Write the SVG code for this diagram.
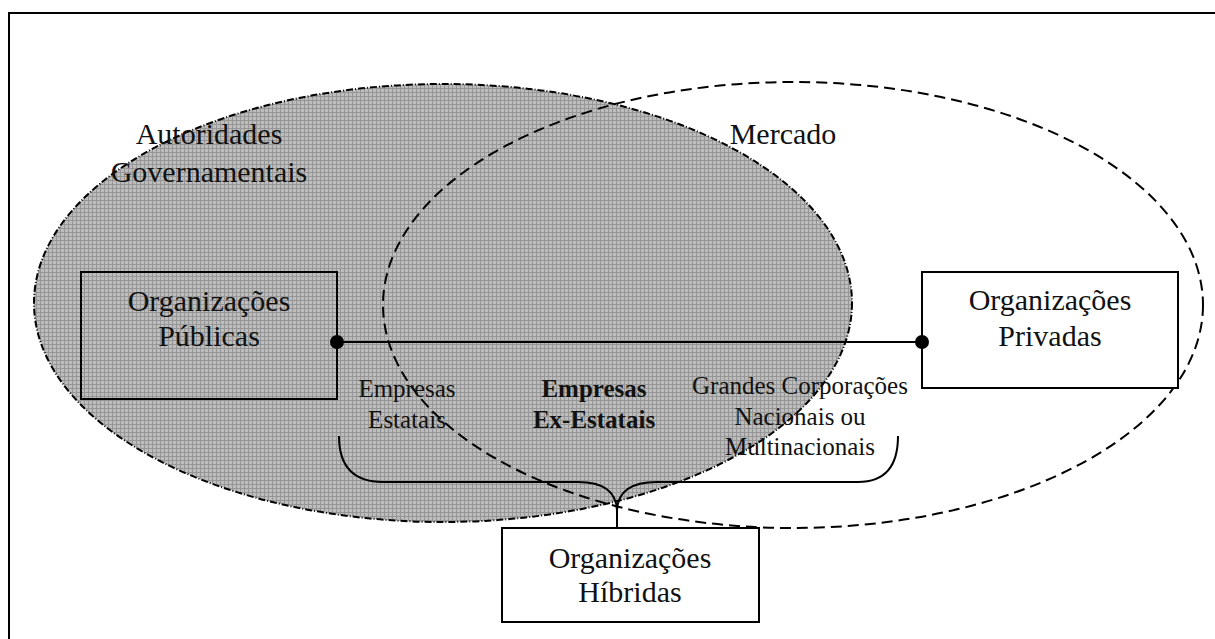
<svg xmlns="http://www.w3.org/2000/svg" width="1215" height="639" viewBox="0 0 1215 639">
  <style>
    .big { font-family: "Liberation Serif", "Times New Roman", serif; font-size: 30px; fill: #111; text-anchor: middle; }
    .small { font-family: "Liberation Serif", "Times New Roman", serif; font-size: 25px; fill: #111; text-anchor: middle; }
    .bold { font-weight: bold; }
    .box { stroke: #000; stroke-width: 2; }
    .line { stroke: #000; stroke-width: 2; fill: none; }
  </style>
  <defs>
    <pattern id="grid" width="4" height="4" patternUnits="userSpaceOnUse">
      <rect width="4" height="4" fill="#bdbdbd"/>
      <rect width="4" height="1" fill="#969696"/>
      <rect width="1" height="4" fill="#969696"/>
    </pattern>
  </defs>

  <rect width="1215" height="639" fill="#fff"/>
  <!-- outer frame -->
  <rect x="9" y="13" width="1220" height="640" fill="none" stroke="#000" stroke-width="2"/>

  <!-- government sphere -->
  <g id="autoridades">
    <ellipse cx="443" cy="303" rx="409" ry="219" fill="url(#grid)" stroke="#000" stroke-width="2" stroke-dasharray="7 2 1 2"/>
    <text class="big" x="209" y="144">Autoridades</text>
    <text class="big" x="209" y="182">Governamentais</text>
  </g>

  <!-- market sphere -->
  <g id="mercado">
    <ellipse cx="793" cy="305" rx="410" ry="223" fill="none" stroke="#000" stroke-width="2" stroke-dasharray="11 6"/>
    <text class="big" x="783" y="144">Mercado</text>
  </g>

  <g id="publicas">
    <rect class="box" x="81" y="272" width="256" height="127" fill="none"/>
    <text class="big" x="209" y="311">Organizações</text>
    <text class="big" x="209" y="346">Públicas</text>
  </g>

  <g id="privadas">
    <rect class="box" x="922" y="272" width="256" height="116" fill="#fff"/>
    <text class="big" x="1050" y="310">Organizações</text>
    <text class="big" x="1050" y="346">Privadas</text>
  </g>

  <g id="hibridas">
    <rect class="box" x="502" y="528" width="257" height="94" fill="#fff"/>
    <text class="big" x="630" y="568">Organizações</text>
    <text class="big" x="630" y="602">Híbridas</text>
  </g>

  <g id="connectors">
    <line class="line" x1="337" y1="342" x2="922" y2="342"/>
    <circle cx="337" cy="342" r="7" fill="#000"/>
    <circle cx="922" cy="342" r="7" fill="#000"/>
    <!-- brace grouping the three kinds of companies -->
    <path class="line" d="M 339 436 Q 339 482 383 482 L 578 482 Q 617 482 617 512 L 617 528"/>
    <path class="line" d="M 617 512 Q 617 482 657 482 L 858 482 Q 898 482 898 436"/>
  </g>

  <g id="estatais">
    <text class="small" x="407" y="397">Empresas</text>
    <text class="small" x="407" y="428">Estatais</text>
  </g>

  <g id="ex-estatais">
    <text class="small bold" x="594" y="397">Empresas</text>
    <text class="small bold" x="594" y="428">Ex-Estatais</text>
  </g>

  <g id="corporacoes">
    <text class="small" x="800" y="394">Grandes Corporações</text>
    <text class="small" x="800" y="425">Nacionais ou</text>
    <text class="small" x="800" y="455">Multinacionais</text>
  </g>
</svg>
